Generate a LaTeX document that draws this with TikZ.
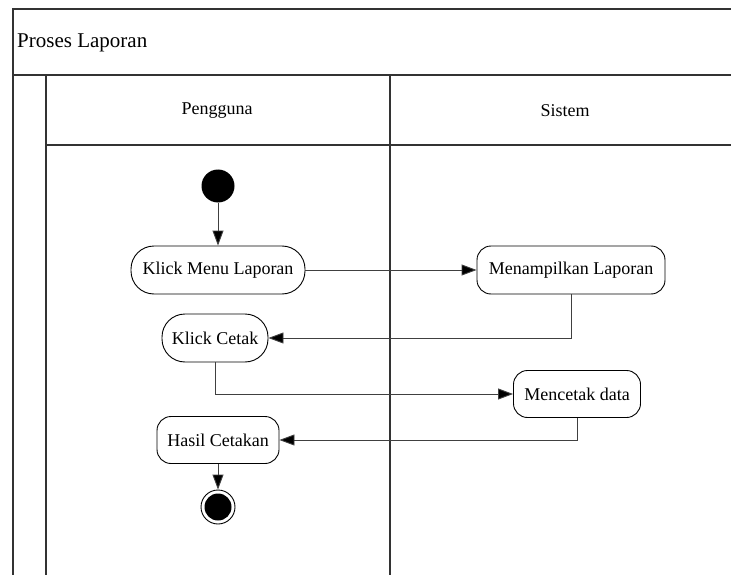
\documentclass[tikz,border=0pt]{standalone}
\usepackage{fontspec}
\setmainfont{Liberation Serif}
\usetikzlibrary{arrows.meta}
\begin{document}
\begin{tikzpicture}[x=1pt,y=-1pt,
  frame/.style={draw=black!80,line width=1.4pt},
  act/.style={draw,line width=0.9pt,fill=white,minimum height=48pt,inner xsep=8pt,
    font=\fontsize{18}{20}\selectfont},
  pill/.style={act,rounded corners=23pt},
  rbox/.style={act,rounded corners=14pt},
  flow/.style={draw=black!75,line width=0.9pt,-{Triangle[length=15pt,width=11pt,fill=black]}},
  lbl/.style={font=\fontsize{18}{20}\selectfont}]
\useasboundingbox (0,0) rectangle (731,575);
\clip (0,0) rectangle (731,575);
% pool frame, title bar and lane headers
\draw[frame] (13,575) -- (13,9) -- (740,9);
\draw[frame] (13,75) -- (740,75);
\draw[frame] (46,75) -- (46,575);
\draw[frame] (390,75) -- (390,575);
\draw[frame] (46,145) -- (740,145);
\node[anchor=west,inner sep=0pt,font=\fontsize{21}{24}\selectfont] (title) at (17,43) {Proses Laporan};
\node[lbl] (lane1) at (217,111) {Pengguna};
\node[lbl] (lane2) at (565,111) {Sistem};
% activities
\node[circle,fill=black,minimum size=33pt,inner sep=0pt] (start) at (218,186) {};
\node[pill,minimum width=174pt] (menu) at (218,270) {Klick Menu Laporan};
\node[rbox,minimum width=188pt] (tampil) at (571,270) {Menampilkan Laporan};
\node[pill,minimum width=106pt] (cetak) at (215,338) {Klick Cetak};
\node[rbox,minimum width=127pt,minimum height=47pt] (cetakdata) at (577,394) {Mencetak data};
\node[rbox,minimum width=122pt,minimum height=47pt] (hasil) at (218,440) {Hasil Cetakan};
\node[circle,draw,line width=0.9pt,minimum size=34pt,inner sep=0pt] (end) at (218,507) {};
\node[circle,fill=black,minimum size=27pt,inner sep=0pt] (endin) at (end.center) {};
% transitions
\draw[flow] (start) -- (menu);
\draw[flow] (menu) -- (tampil);
\draw[flow] (tampil.south) |- (cetak.east);
\draw[flow] (cetak.south) |- (cetakdata.west);
\draw[flow] (cetakdata.south) |- (hasil.east);
\draw[flow] (hasil) -- (end);
\end{tikzpicture}
\end{document}
